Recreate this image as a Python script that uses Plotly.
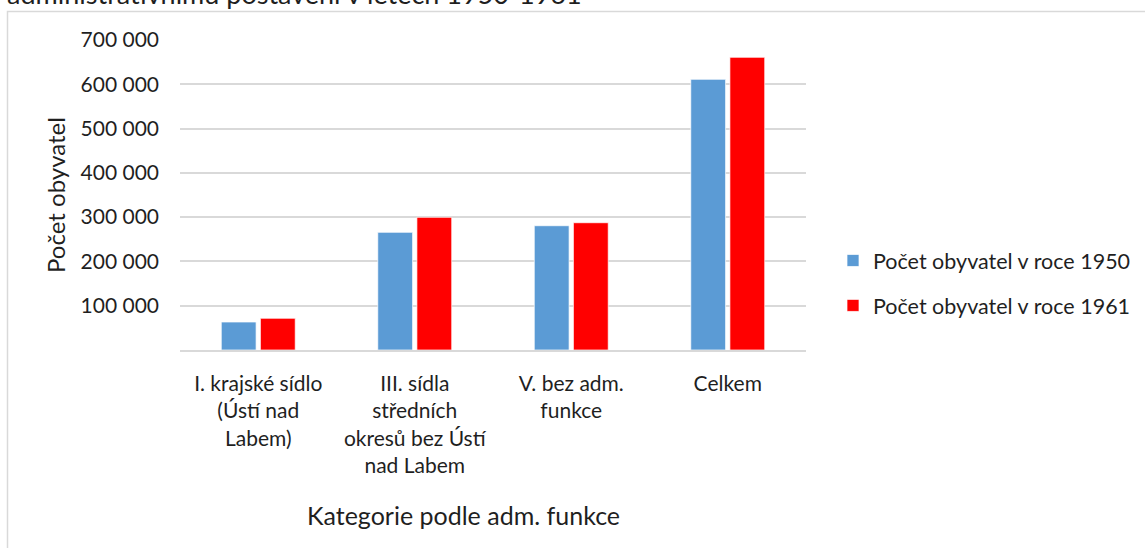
import plotly.graph_objects as go

categories = [
    "I. krajské sídlo<br>(Ústí nad<br>Labem)",
    "III. sídla<br>středních<br>okresů bez Ústí<br>nad Labem",
    "V. bez adm.<br>funkce",
    "Celkem",
]
pop_1950 = [63200, 265700, 280600, 611200]
pop_1961 = [71600, 299600, 287400, 660900]

y_ticks = [0, 100000, 200000, 300000, 400000, 500000, 600000, 700000]
y_ticktext = ["", "100 000", "200 000", "300 000", "400 000", "500 000", "600 000", "700 000"]

FONT = "Lato, Carlito, Calibri, sans-serif"
TEXT = "#1f1f1f"
GRID = "#d9d9d9"

W, H = 1145, 548
L, R, T, B = 180, W - 806, 40, H - 350
pw, ph = W - L - R, H - T - B


def px_x(x):
    return (x - L) / pw


def px_y(y):
    return (H - B - y) / ph


fig = go.Figure()
fig.add_trace(go.Bar(
    x=categories, y=pop_1950, name="Počet obyvatel v roce 1950",
    marker=dict(color="#5b9bd5", line=dict(color="rgba(255,255,255,0.7)", width=1)),
    legendgroup="a",
))
fig.add_trace(go.Bar(
    x=categories, y=pop_1961, name="Počet obyvatel v roce 1961",
    marker=dict(color="#ff0000", line=dict(color="rgba(255,255,255,0.7)", width=1)),
    legendgroup="b",
))

fig.update_layout(
    width=W, height=H,
    margin=dict(l=L, r=R, t=T, b=B, autoexpand=False),
    paper_bgcolor="white", plot_bgcolor="white",
    font=dict(family=FONT, size=21, color=TEXT),
    barmode="group", bargap=0.5, bargroupgap=0.11,
    showlegend=True,
    legend=dict(
        x=px_x(833), xanchor="left", y=px_y(283), yanchor="middle",
        font=dict(size=21.5, color=TEXT), tracegroupgap=14,
        bgcolor="rgba(0,0,0,0)",
    ),
)

fig.update_yaxes(
    range=[0, 700000], tickvals=y_ticks, ticktext=y_ticktext,
    showgrid=True, gridcolor=GRID, gridwidth=1.5,
    zeroline=False, showline=False, ticks="",
    tickfont=dict(size=21, color=TEXT), ticklabelstandoff=20,
    title=dict(text="Počet obyvatel", font=dict(size=24, color=TEXT), standoff=8),
)
fig.update_xaxes(
    showline=True, linecolor=GRID, linewidth=1.5, ticks="",
    tickfont=dict(size=21, color=TEXT), tickangle=0, ticklabelstandoff=14,
)

# x-axis title placed as in the original (slightly left of centre)
fig.add_annotation(
    text="Kategorie podle adm. funkce", xref="paper", yref="paper",
    x=px_x(463), y=px_y(515), xanchor="center", yanchor="middle",
    showarrow=False, font=dict(size=25, color=TEXT),
)

# partially visible chart title at the top edge
fig.add_annotation(
    text="administrativnímu postavení v letech 1950-1961", xref="paper", yref="paper",
    x=px_x(5), y=px_y(12), xanchor="left", yanchor="bottom",
    showarrow=False, font=dict(size=27, color=TEXT),
)

# chart frame
fig.add_shape(
    type="rect", xref="paper", yref="paper",
    x0=px_x(7.5), y0=px_y(H + 20), x1=px_x(W + 20), y1=px_y(11.5),
    line=dict(color=GRID, width=1.5), layer="below",
)

fig.write_html(
    "out.html",
    config={"displayModeBar": False},
    post_script="document.body.style.margin='0';",
)
